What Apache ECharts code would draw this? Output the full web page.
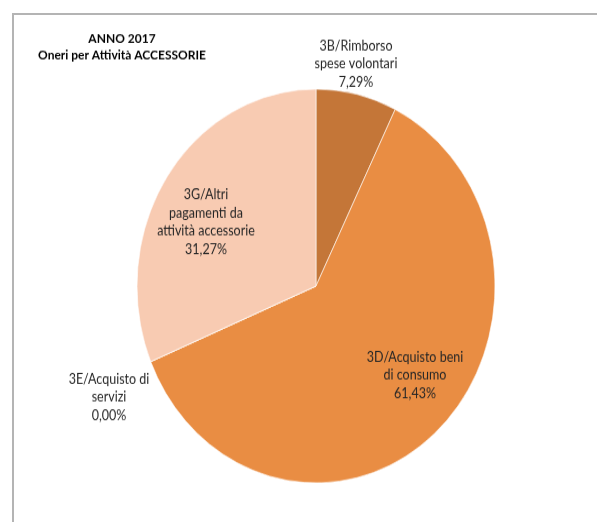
<!DOCTYPE html>
<html>
<head>
<meta charset="utf-8">
<script src="https://cdn.jsdelivr.net/npm/echarts@6/dist/echarts.min.js"></script>
<style>
  html, body { margin: 0; padding: 0; background: #fff; overflow: hidden; }
  #wrap { position: relative; width: 597px; height: 522px; overflow: hidden; }
  #frame { position: absolute; left: 12px; top: 13px; width: 700px; height: 700px;
           border-top: 2px solid #b4b4b4; border-left: 2px solid #b4b4b4; }
  #main { position: absolute; left: 0; top: 0; width: 597px; height: 475px;
          transform: scaleY(1.1); transform-origin: 0 0; }
</style>
</head>
<body>
<div id="wrap">
  <div id="frame"></div>
  <div id="main"></div>
</div>
<script>
const titleLines = ['ANNO 2017', 'Oneri per Attività ACCESSORIE'];
const categories = ['3B/Rimborso spese volontari', '3D/Acquisto beni di consumo', '3E/Acquisto di servizi', '3G/Altri pagamenti da attività accessorie'];
const labelLines = [['3B/Rimborso', 'spese volontari'], ['3D/Acquisto beni', 'di consumo'], ['3E/Acquisto di', 'servizi'], ['3G/Altri', 'pagamenti da', 'attività accessorie']];
const values = [7.29, 61.43, 0.00, 31.27];
const colors = ['#c47638', '#e98d43', '#a5a5a5', '#f8cbb2'];

// label anchor points (pre-scale chart coordinates)
const labelPos = [[356, 58], [415, 341], [109, 361], [206, 202]];

const FONT = 'Lato, "Open Sans", sans-serif';
const chart = echarts.init(document.getElementById('main'), null, { renderer: 'canvas' });

const fmt = v => v.toFixed(2).replace('.', ',') + '%';

chart.setOption({
  animation: false,
  title: {
    text: titleLines.join('\n'),
    left: 117,
    top: 22,
    textAlign: 'center',
    textStyle: { fontFamily: FONT, fontSize: 12, fontWeight: 'bold', color: '#000', lineHeight: 15.5 }
  },
  series: [{
    type: 'pie',
    center: [316, 260],
    radius: [0, 179],
    startAngle: 90,
    clockwise: true,
    minAngle: 0,
    stillShowZeroSum: true,
    itemStyle: { borderColor: '#fff', borderWidth: 0.6 },
    label: {
      show: true,
      position: 'inside',
      fontFamily: FONT,
      fontSize: 12.5,
      lineHeight: 16.5,
      color: '#262626',
      align: 'center',
      formatter: p => labelLines[p.dataIndex].concat([fmt(values[p.dataIndex])]).join('\n')
    },
    labelLine: { show: false },
    labelLayout: p => ({
      x: labelPos[p.dataIndex][0],
      y: labelPos[p.dataIndex][1],
      align: 'center',
      verticalAlign: 'middle',
      hideOverlap: false,
      moveOverlap: false
    }),
    data: categories.map((c, i) => ({ name: c, value: values[i], itemStyle: { color: colors[i] } }))
  }]
});
</script>
</body>
</html>
